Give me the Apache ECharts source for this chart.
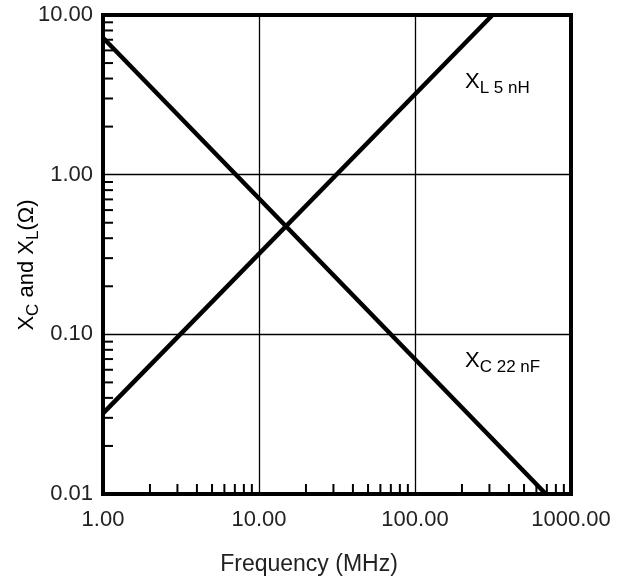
<!DOCTYPE html>
<html>
<head>
<meta charset="utf-8">
<script src="https://cdn.jsdelivr.net/npm/echarts@6/dist/echarts.min.js"></script>
<style>
  html, body { margin: 0; padding: 0; background: #fff; }
  #main { width: 623px; height: 578px; }
</style>
</head>
<body>
<div id="main"></div>
<script>
// endpoints (straight lines on log-log axes)
var xlPoints = [[1, 0.032], [314, 10]];     // X_L 5 nH
var xcPoints = [[1, 7.2], [690, 0.01]];     // X_C 22 nF

var xTickLabels = ['1.00', '10.00', '100.00', '1000.00'];
var yTickLabels = ['0.01', '0.10', '1.00', '10.00'];

// minor tick positions (inside ticks on bottom and left edges)
var xMinor = [2, 3, 4, 5, 6, 7, 8, 9, 20, 30, 40, 50, 60, 70, 80, 90, 200, 300, 400, 500, 600, 700, 800, 900];
var yMinor = [0.02, 0.03, 0.04, 0.05, 0.06, 0.07, 0.08, 0.09, 0.2, 0.3, 0.4, 0.5, 0.6, 0.7, 0.8, 0.9, 2, 3, 4, 5, 6, 7, 8, 9];

var X_MIN = 1, X_MAX = 1000, Y_MIN = 0.01, Y_MAX = 10;
var FONT = 'Liberation Sans, Arial, sans-serif';
var TXT = '#222';

var myChart = echarts.init(document.getElementById('main'));

function tickSeries(values, vertical) {
  return {
    type: 'custom',
    silent: true,
    clip: false,
    z: 5,
    data: values.map(function (v) { return vertical ? [v, Y_MIN] : [X_MIN, v]; }),
    renderItem: function (params, api) {
      var p = api.coord([api.value(0), api.value(1)]);
      var shape = vertical
        ? { x1: p[0], y1: p[1], x2: p[0], y2: p[1] - 10 }
        : { x1: p[0], y1: p[1], x2: p[0] + 10, y2: p[1] };
      return { type: 'line', shape: shape, style: { stroke: '#000', lineWidth: 2 } };
    }
  };
}

var subRich = {
  m: { fontSize: 22, fontFamily: FONT, color: TXT, lineHeight: 30, verticalAlign: 'middle' },
  s: { fontSize: 17, fontFamily: FONT, color: TXT, lineHeight: 30, verticalAlign: 'bottom' }
};

var option = {
  animation: false,
  grid: {
    left: 103, right: 52, top: 15, bottom: 84,
    show: true, borderColor: '#000', borderWidth: 4
  },
  xAxis: {
    type: 'log', logBase: 10, min: X_MIN, max: X_MAX,
    axisLine: { show: false },
    axisTick: { show: false },
    splitLine: { show: true, lineStyle: { color: '#000', width: 1.3 } },
    axisLabel: {
      margin: 15, fontSize: 22, fontFamily: FONT, color: TXT,
      formatter: function (v, i) { return xTickLabels[i]; }
    }
  },
  yAxis: {
    type: 'log', logBase: 10, min: Y_MIN, max: Y_MAX,
    axisLine: { show: false },
    axisTick: { show: false },
    splitLine: { show: true, lineStyle: { color: '#000', width: 1.3 } },
    axisLabel: {
      margin: 10, fontSize: 22, fontFamily: FONT, color: TXT,
      formatter: function (v, i) { return yTickLabels[i]; }
    }
  },
  series: [
    {
      name: 'XL', type: 'line', data: xlPoints, showSymbol: false, z: 6,
      lineStyle: { color: '#000', width: 4.5 }
    },
    {
      name: 'XC', type: 'line', data: xcPoints, showSymbol: false, z: 6,
      lineStyle: { color: '#000', width: 4.5 }
    },
    tickSeries(xMinor, true),
    tickSeries(yMinor, false)
  ],
  graphic: [
    {
      type: 'text', left: 465, top: 71,
      style: { text: '{m|X}{s|L 5 nH}', rich: subRich }
    },
    {
      type: 'text', left: 465, top: 350,
      style: { text: '{m|X}{s|C 22 nF}', rich: subRich }
    },
    {
      type: 'text', x: 27, y: 265, rotation: Math.PI / 2,
      style: {
        text: '{m|X}{s|C}{m| and X}{s|L}{m|(Ω)}', rich: subRich,
        align: 'center', verticalAlign: 'middle'
      }
    },
    {
      type: 'text', x: 309, y: 565,
      style: {
        text: 'Frequency (MHz)', fontSize: 23, fontFamily: FONT, fill: TXT,
        align: 'center', verticalAlign: 'middle'
      }
    }
  ]
};
myChart.setOption(option);
</script>
</body>
</html>
